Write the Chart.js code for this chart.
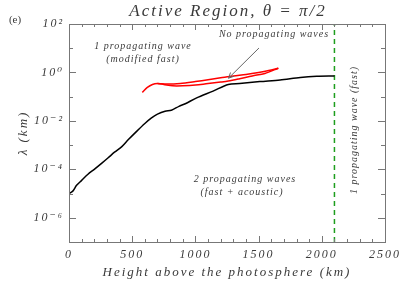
<!DOCTYPE html>
<html>
<head>
<meta charset="utf-8">
<script src="https://cdn.jsdelivr.net/npm/chart.js@4.4.0/dist/chart.umd.min.js"></script>
<style>
    html, body { margin: 0; padding: 0; background: #fff; }
    #wrap { width: 407px; height: 291px; position: relative; }
</style>
</head>
<body>
<div id="wrap"><canvas id="myChart" width="407" height="291"></canvas></div>
<script>
// Black curve: cutoff wavelength vs height
var blackX = [0, 30, 60, 100, 150, 200, 260, 310, 360, 420, 470, 535, 600, 650, 700, 760, 810, 870, 920, 1010, 1140, 1260, 1350, 1510, 1670, 1830, 1960, 2100];
var blackY = [1.0e-5, 1.26e-5, 2.2e-5, 3.5e-5, 6.3e-5, 1.0e-4, 1.8e-4, 3.0e-4, 5.1e-4, 8.9e-4, 1.7e-3, 3.7e-3, 7.8e-3, 1.3e-2, 1.9e-2, 2.5e-2, 2.75e-2, 4.0e-2, 5.1e-2, 8.9e-2, 0.17, 0.32, 0.35, 0.42, 0.49, 0.62, 0.69, 0.71];

// Red curves (two strands forming a loop)
var redLowX = [580, 620, 660, 700, 750, 820, 900, 1000, 1100, 1200, 1260, 1350, 1450, 1550, 1656];
var redLowY = [0.15, 0.24, 0.32, 0.35, 0.32, 0.28, 0.28, 0.30, 0.35, 0.40, 0.44, 0.55, 0.72, 0.91, 1.5];
var redUpX = [700, 780, 880, 1000, 1100, 1200, 1300, 1400, 1500, 1580, 1656];
var redUpY = [0.35, 0.33, 0.35, 0.42, 0.50, 0.60, 0.72, 0.83, 1.0, 1.2, 1.5];

// Transition height (dashed line)
var cutHeight = 2100;

// Axes
var xMin = 0, xMax = 2500;
var yTicks = [1e-7, 1e-6, 1e-5, 1e-4, 1e-3, 1e-2, 1e-1, 1e0, 1e1, 1e2];
var yTickText = ['', '10\u207B\u2076', '', '10\u207B\u2074', '', '10\u207B\u00B2', '', '10\u2070', '', '10\u00B2'];

// Arrow to "No propagating waves"
var arrowFrom = {x: 1503, y: 10.2};
var arrowTo = {x: 1262, y: 0.58};

var titleText = 'Active Region, \u03B8 = \u03C0/2';
var serif = '"Liberation Serif", "DejaVu Serif", serif';
var textColor = '#3a3a3a';

function pts(xs, ys) {
    return xs.map(function (x, i) { return {x: x, y: ys[i]}; });
}

var idlFrame = {
    id: 'idlFrame',
    beforeDraw: function (chart) {
        // wide Hershey-like spacing for all text drawn by the library
        chart.ctx.letterSpacing = '2px';
    },
    afterDatasetsDraw: function (chart) {
        var ctx = chart.ctx,
            a = chart.chartArea,
            xs = chart.scales.x,
            ys = chart.scales.y;

        ctx.save();
        ctx.strokeStyle = '#777';
        ctx.lineWidth = 1;
        ctx.strokeRect(a.left + 0.5, a.top + 0.5, a.right - a.left, a.bottom - a.top);

        ctx.beginPath();
        xs.ticks.forEach(function (t) {
            var px = Math.round(xs.getPixelForValue(t.value)) + 0.5,
                len = t.value % 500 === 0 ? 6 : 3;
            ctx.moveTo(px, a.bottom); ctx.lineTo(px, a.bottom - len);
            ctx.moveTo(px, a.top); ctx.lineTo(px, a.top + len);
        });
        ys.ticks.forEach(function (t, i) {
            var py = Math.round(ys.getPixelForValue(t.value)) + 0.5,
                len = yTickText[i] ? 7 : 4;
            ctx.moveTo(a.left, py); ctx.lineTo(a.left + len, py);
            ctx.moveTo(a.right, py); ctx.lineTo(a.right - len, py);
        });
        ctx.stroke();

        // arrow
        var x1 = xs.getPixelForValue(arrowFrom.x), y1 = ys.getPixelForValue(arrowFrom.y),
            x2 = xs.getPixelForValue(arrowTo.x), y2 = ys.getPixelForValue(arrowTo.y),
            ang = Math.atan2(y2 - y1, x2 - x1);
        ctx.strokeStyle = '#666';
        ctx.beginPath();
        ctx.moveTo(x1, y1); ctx.lineTo(x2, y2);
        ctx.moveTo(x2, y2); ctx.lineTo(x2 - 6 * Math.cos(ang - 0.45), y2 - 6 * Math.sin(ang - 0.45));
        ctx.moveTo(x2, y2); ctx.lineTo(x2 - 6 * Math.cos(ang + 0.45), y2 - 6 * Math.sin(ang + 0.45));
        ctx.stroke();

        // title, centred over the plot box
        ctx.fillStyle = textColor;
        ctx.textAlign = 'center';
        ctx.textBaseline = 'middle';
        ctx.letterSpacing = '2px';
        ctx.font = 'italic 17px ' + serif;
        ctx.fillText(titleText, (a.left + a.right) / 2 + 1, 12);

        // labels
        ctx.letterSpacing = '1px';
        ctx.font = 'italic 10px ' + serif;
        ctx.fillText('1 propagating wave', 143, 46);
        ctx.fillText('(modified fast)', 143, 59);
        ctx.fillText('No propagating waves', 274, 34);
        ctx.fillText('2 propagating waves', 245, 179);
        ctx.fillText('(fast + acoustic)', 242, 192);

        ctx.translate(354, 130);
        ctx.rotate(-Math.PI / 2);
        ctx.fillText('1 propagating wave (fast)', 0, 0);
        ctx.restore();

        ctx.save();
        ctx.fillStyle = textColor;
        ctx.letterSpacing = '0px';
        ctx.font = '11px ' + serif;
        ctx.textAlign = 'center';
        ctx.textBaseline = 'middle';
        ctx.fillText('(e)', 15, 20);
        ctx.restore();
    }
};

var ctx = document.getElementById('myChart').getContext('2d');
var myChart = new Chart(ctx, {
    type: 'line',
    data: {
        datasets: [
            {data: pts(blackX, blackY), borderColor: '#000', borderWidth: 1.5, pointRadius: 0, tension: 0.3},
            {data: pts(redLowX, redLowY), borderColor: '#ff0000', borderWidth: 1.5, pointRadius: 0, tension: 0.3},
            {data: pts(redUpX, redUpY), borderColor: '#ff0000', borderWidth: 1.5, pointRadius: 0, tension: 0.3},
            {data: [{x: cutHeight, y: 1e-7}, {x: cutHeight, y: 1e2}], borderColor: '#1e9e1e', borderWidth: 1.5, borderDash: [5, 4], pointRadius: 0}
        ]
    },
    options: {
        responsive: false,
        animation: false,
        layout: {padding: {left: 0, right: 22, top: 24, bottom: 0}},
        plugins: {
            legend: {display: false},
            tooltip: {enabled: false},
            title: {display: false}
        },
        scales: {
            x: {
                type: 'linear',
                min: xMin,
                max: xMax,
                grid: {display: false, drawTicks: false},
                border: {display: false},
                afterFit: function (scale) { scale.height = 49; },
                ticks: {
                    stepSize: 100,
                    autoSkip: false,
                    maxRotation: 0,
                    padding: 6,
                    color: textColor,
                    font: {family: serif, size: 12, style: 'italic'},
                    callback: function (v) { return v % 500 === 0 ? String(v) : ''; }
                },
                title: {
                    display: true,
                    text: 'Height above the photosphere (km)',
                    color: textColor,
                    font: {family: serif, size: 13, style: 'italic'},
                    padding: {top: 2, bottom: 11}
                }
            },
            y: {
                type: 'logarithmic',
                min: 1e-7,
                max: 1e2,
                grid: {display: false, drawTicks: false},
                border: {display: false},
                afterFit: function (scale) { scale.width = 69; },
                afterBuildTicks: function (scale) {
                    scale.ticks = yTicks.map(function (v) { return {value: v}; });
                },
                ticks: {
                    autoSkip: false,
                    padding: 5,
                    color: textColor,
                    font: {family: serif, size: 12, style: 'italic'},
                    callback: function (v, i) { return yTickText[i] || ''; }
                },
                title: {
                    display: true,
                    text: '\u03BB (km)',
                    color: textColor,
                    font: {family: serif, size: 13, style: 'italic'},
                    padding: {top: 16, bottom: 0}
                }
            }
        }
    },
    plugins: [idlFrame]
});
</script>
</body>
</html>
